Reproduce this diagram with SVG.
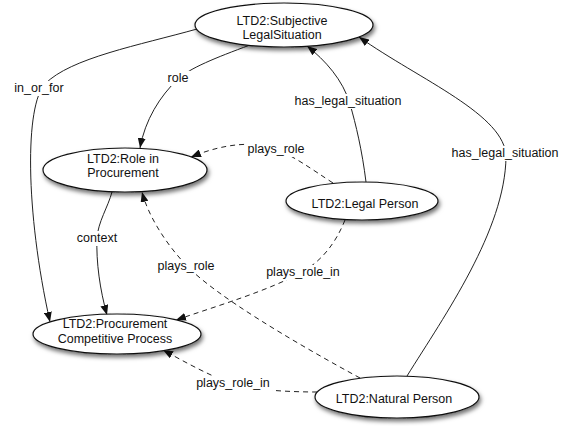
<svg xmlns="http://www.w3.org/2000/svg" width="564" height="426" viewBox="0 0 564 426">
<defs>
<filter id="sh" x="-20%" y="-30%" width="140%" height="170%">
<feDropShadow dx="1.5" dy="3" stdDeviation="2" flood-color="#000" flood-opacity="0.55"/>
</filter>
<marker id="ah" markerUnits="userSpaceOnUse" markerWidth="11" markerHeight="8" refX="10" refY="4" orient="auto">
<path d="M0,0 L10,4 L0,8 z" fill="#111"/>
</marker>
</defs>
<style>
.node ellipse{fill:#fff;stroke:#111;stroke-width:1.2;filter:url(#sh)}
.node text{font-family:"Liberation Sans",Arial,sans-serif;font-size:12.5px;fill:#111;text-anchor:middle}
.e{fill:none;stroke:#222;stroke-width:1;marker-end:url(#ah)}
.d{stroke-dasharray:5,4}
.lb rect{fill:#fff}
.lb text{font-family:"Liberation Sans",Arial,sans-serif;font-size:12.5px;fill:#111;text-anchor:middle}
</style>
<rect width="564" height="426" fill="#fff"/>
<g id="connectors">
<path class="e" d="M250,45 C215,58 190,68 178,79 C160,96 145,120 140,148"/>
<path class="e" d="M197,29 C140,45 70,58 45,84 C25,105 25,210 50,322"/>
<path class="e" d="M112,192 C108,207 98,222 97,238 C96,262 100,290 107,315"/>
<path class="e" d="M366,182 C362,150 356,125 350,104 C343,80 325,60 307,46"/>
<path class="e" d="M407,376 C445,315 505,230 506,157 C506,115 420,80 359,37"/>
<path class="e d" d="M333,183 C310,168 295,157 276,149 C255,141 225,143 191,157"/>
<path class="e d" d="M345,220 C335,245 320,262 302,272 C270,290 220,305 176,320"/>
<path class="e d" d="M360,378 C290,340 215,295 187,266 C165,243 148,215 142,192"/>
<path class="e d" d="M317,392 C290,392 250,390 233,384 C210,376 185,362 163,350"/>
<g class="lb">
<rect x="165" y="71" width="27" height="15"/><text x="178" y="82">role</text>
<rect x="12" y="81" width="56" height="15"/><text x="39" y="92">in_or_for</text>
<rect x="72" y="231" width="50" height="15"/><text x="97" y="242">context</text>
<rect x="292" y="94" width="113" height="15"/><text x="348" y="105">has_legal_situation</text>
<rect x="449" y="146" width="113" height="15"/><text x="505" y="157">has_legal_situation</text>
<rect x="245" y="142" width="62" height="15"/><text x="276" y="153">plays_role</text>
<rect x="155" y="259" width="62" height="15"/><text x="186" y="270">plays_role</text>
<rect x="264" y="265" width="78" height="15"/><text x="303" y="276">plays_role_in</text>
<rect x="194" y="376" width="78" height="15"/><text x="233" y="387">plays_role_in</text>
</g>
</g>
<g id="subjective" class="node"><ellipse cx="284" cy="25" rx="89" ry="22"/><text x="282" y="24.5">LTD2:Subjective</text><text x="282" y="39">LegalSituation</text></g>
<g id="role" class="node"><ellipse cx="125" cy="170" rx="82" ry="22"/><text x="123" y="163">LTD2:Role in</text><text x="123" y="177">Procurement</text></g>
<g id="legal" class="node"><ellipse cx="362" cy="201" rx="76" ry="19"/><text x="365" y="208">LTD2:Legal Person</text></g>
<g id="procurement" class="node"><ellipse cx="117" cy="334" rx="84" ry="20"/><text x="115" y="328">LTD2:Procurement</text><text x="115" y="343">Competitive Process</text></g>
<g id="natural" class="node"><ellipse cx="397" cy="397" rx="82" ry="21"/><text x="394" y="403">LTD2:Natural Person</text></g>
</svg>
